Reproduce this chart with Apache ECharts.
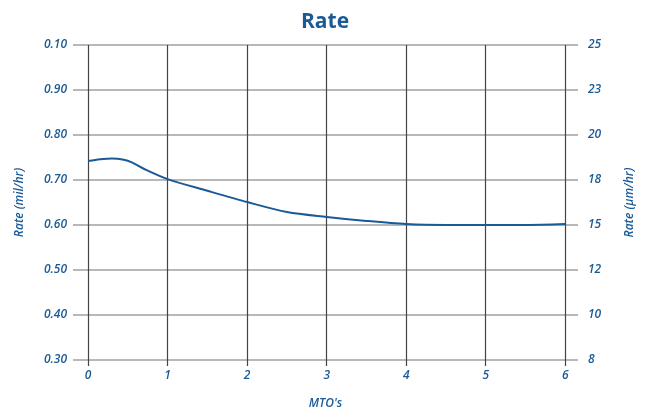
<!DOCTYPE html>
<html>
<head>
<meta charset="utf-8">
<script src="https://cdn.jsdelivr.net/npm/echarts@6/dist/echarts.min.js"></script>
<style>html,body{margin:0;padding:0;background:#fff;overflow:hidden}#c{width:650px;height:415px}</style>
</head>
<body>
<div id="c"></div>
<script>
var xTicks = [0, 1, 2, 3, 4, 5, 6];
var leftTickValues = [0.3, 0.4, 0.5, 0.6, 0.7, 0.8, 0.9, 1.0];
var leftTickLabels = ["0.30", "0.40", "0.50", "0.60", "0.70", "0.80", "0.90", "0.10"];
var rightTickLabels = ["8", "10", "12", "15", "18", "20", "23", "25"];
var mtoValues = [0, 0.15, 0.3, 0.45, 0.55, 0.7, 1.0, 1.5, 2.0, 2.5, 3.0, 3.5, 4.0, 4.5, 5.0, 5.5, 6.0];
var rateValues = [0.742, 0.746, 0.748, 0.745, 0.739, 0.725, 0.702, 0.676, 0.651, 0.629, 0.618, 0.609, 0.602, 0.600, 0.600, 0.600, 0.602];

var BLUE = '#1a5a96';
var FONT = '"Open Sans", "Noto Sans", sans-serif';

function labelFor(v, labels) {
  for (var i = 0; i < leftTickValues.length; i++) {
    if (Math.abs(leftTickValues[i] - v) < 1e-6) return labels[i];
  }
  return '';
}

var chart = echarts.init(document.getElementById('c'));
chart.setOption({
  animation: false,
  title: {
    text: 'Rate', left: 'center', top: 7,
    textStyle: { color: BLUE, fontFamily: FONT, fontSize: 21, fontWeight: 'bold' }
  },
  grid: { left: 73, right: 72, top: 45, bottom: 51, containLabel: false },
  xAxis: {
    type: 'value', min: -0.19, max: 6.16,
    name: "MTO's", nameLocation: 'middle', nameGap: 38,
    nameTextStyle: { color: BLUE, fontFamily: FONT, fontStyle: 'italic', fontWeight: 600, fontSize: 12 },
    axisLine: { show: false },
    axisTick: { show: true, customValues: xTicks, length: 6, lineStyle: { color: '#444', width: 1.2 } },
    axisLabel: { customValues: xTicks, color: BLUE, fontFamily: FONT, fontStyle: 'italic', fontWeight: 600, fontSize: 12, margin: 10 },
    splitLine: { show: false }
  },
  yAxis: [{
    type: 'value', min: 0.3, max: 1.0, interval: 0.1, position: 'left',
    name: 'Rate (mil/hr)', nameLocation: 'middle', nameGap: 47, nameRotate: 90,
    nameTextStyle: { color: BLUE, fontFamily: FONT, fontStyle: 'italic', fontWeight: 600, fontSize: 12 },
    axisLine: { show: false }, axisTick: { show: false },
    axisLabel: { color: BLUE, fontFamily: FONT, fontStyle: 'italic', fontWeight: 600, fontSize: 12, margin: 6,
      formatter: function (v) { return labelFor(v, leftTickLabels); } },
    splitLine: { show: true, lineStyle: { color: '#a0a0a0', width: 1.5 } }
  }, {
    type: 'value', min: 0.3, max: 1.0, interval: 0.1, position: 'right',
    name: 'Rate (\u03bcm/hr)', nameLocation: 'middle', nameGap: 46, nameRotate: 90,
    nameTextStyle: { color: BLUE, fontFamily: FONT, fontStyle: 'italic', fontWeight: 600, fontSize: 12 },
    axisLine: { show: false }, axisTick: { show: false },
    axisLabel: { color: BLUE, fontFamily: FONT, fontStyle: 'italic', fontWeight: 600, fontSize: 12, margin: 10,
      formatter: function (v) { return labelFor(v, rightTickLabels); } },
    splitLine: { show: false }
  }],
  series: [{
    type: 'line', yAxisIndex: 0, smooth: 0.3, symbol: 'none',
    lineStyle: { color: BLUE, width: 2 },
    data: mtoValues.map(function (x, i) { return [x, rateValues[i]]; }),
    markLine: {
      silent: true, symbol: 'none', label: { show: false },
      lineStyle: { color: '#444', width: 1.2, type: 'solid' },
      data: xTicks.map(function (t) { return { xAxis: t }; })
    },
    z: 5
  }]
});
</script>
</body>
</html>
